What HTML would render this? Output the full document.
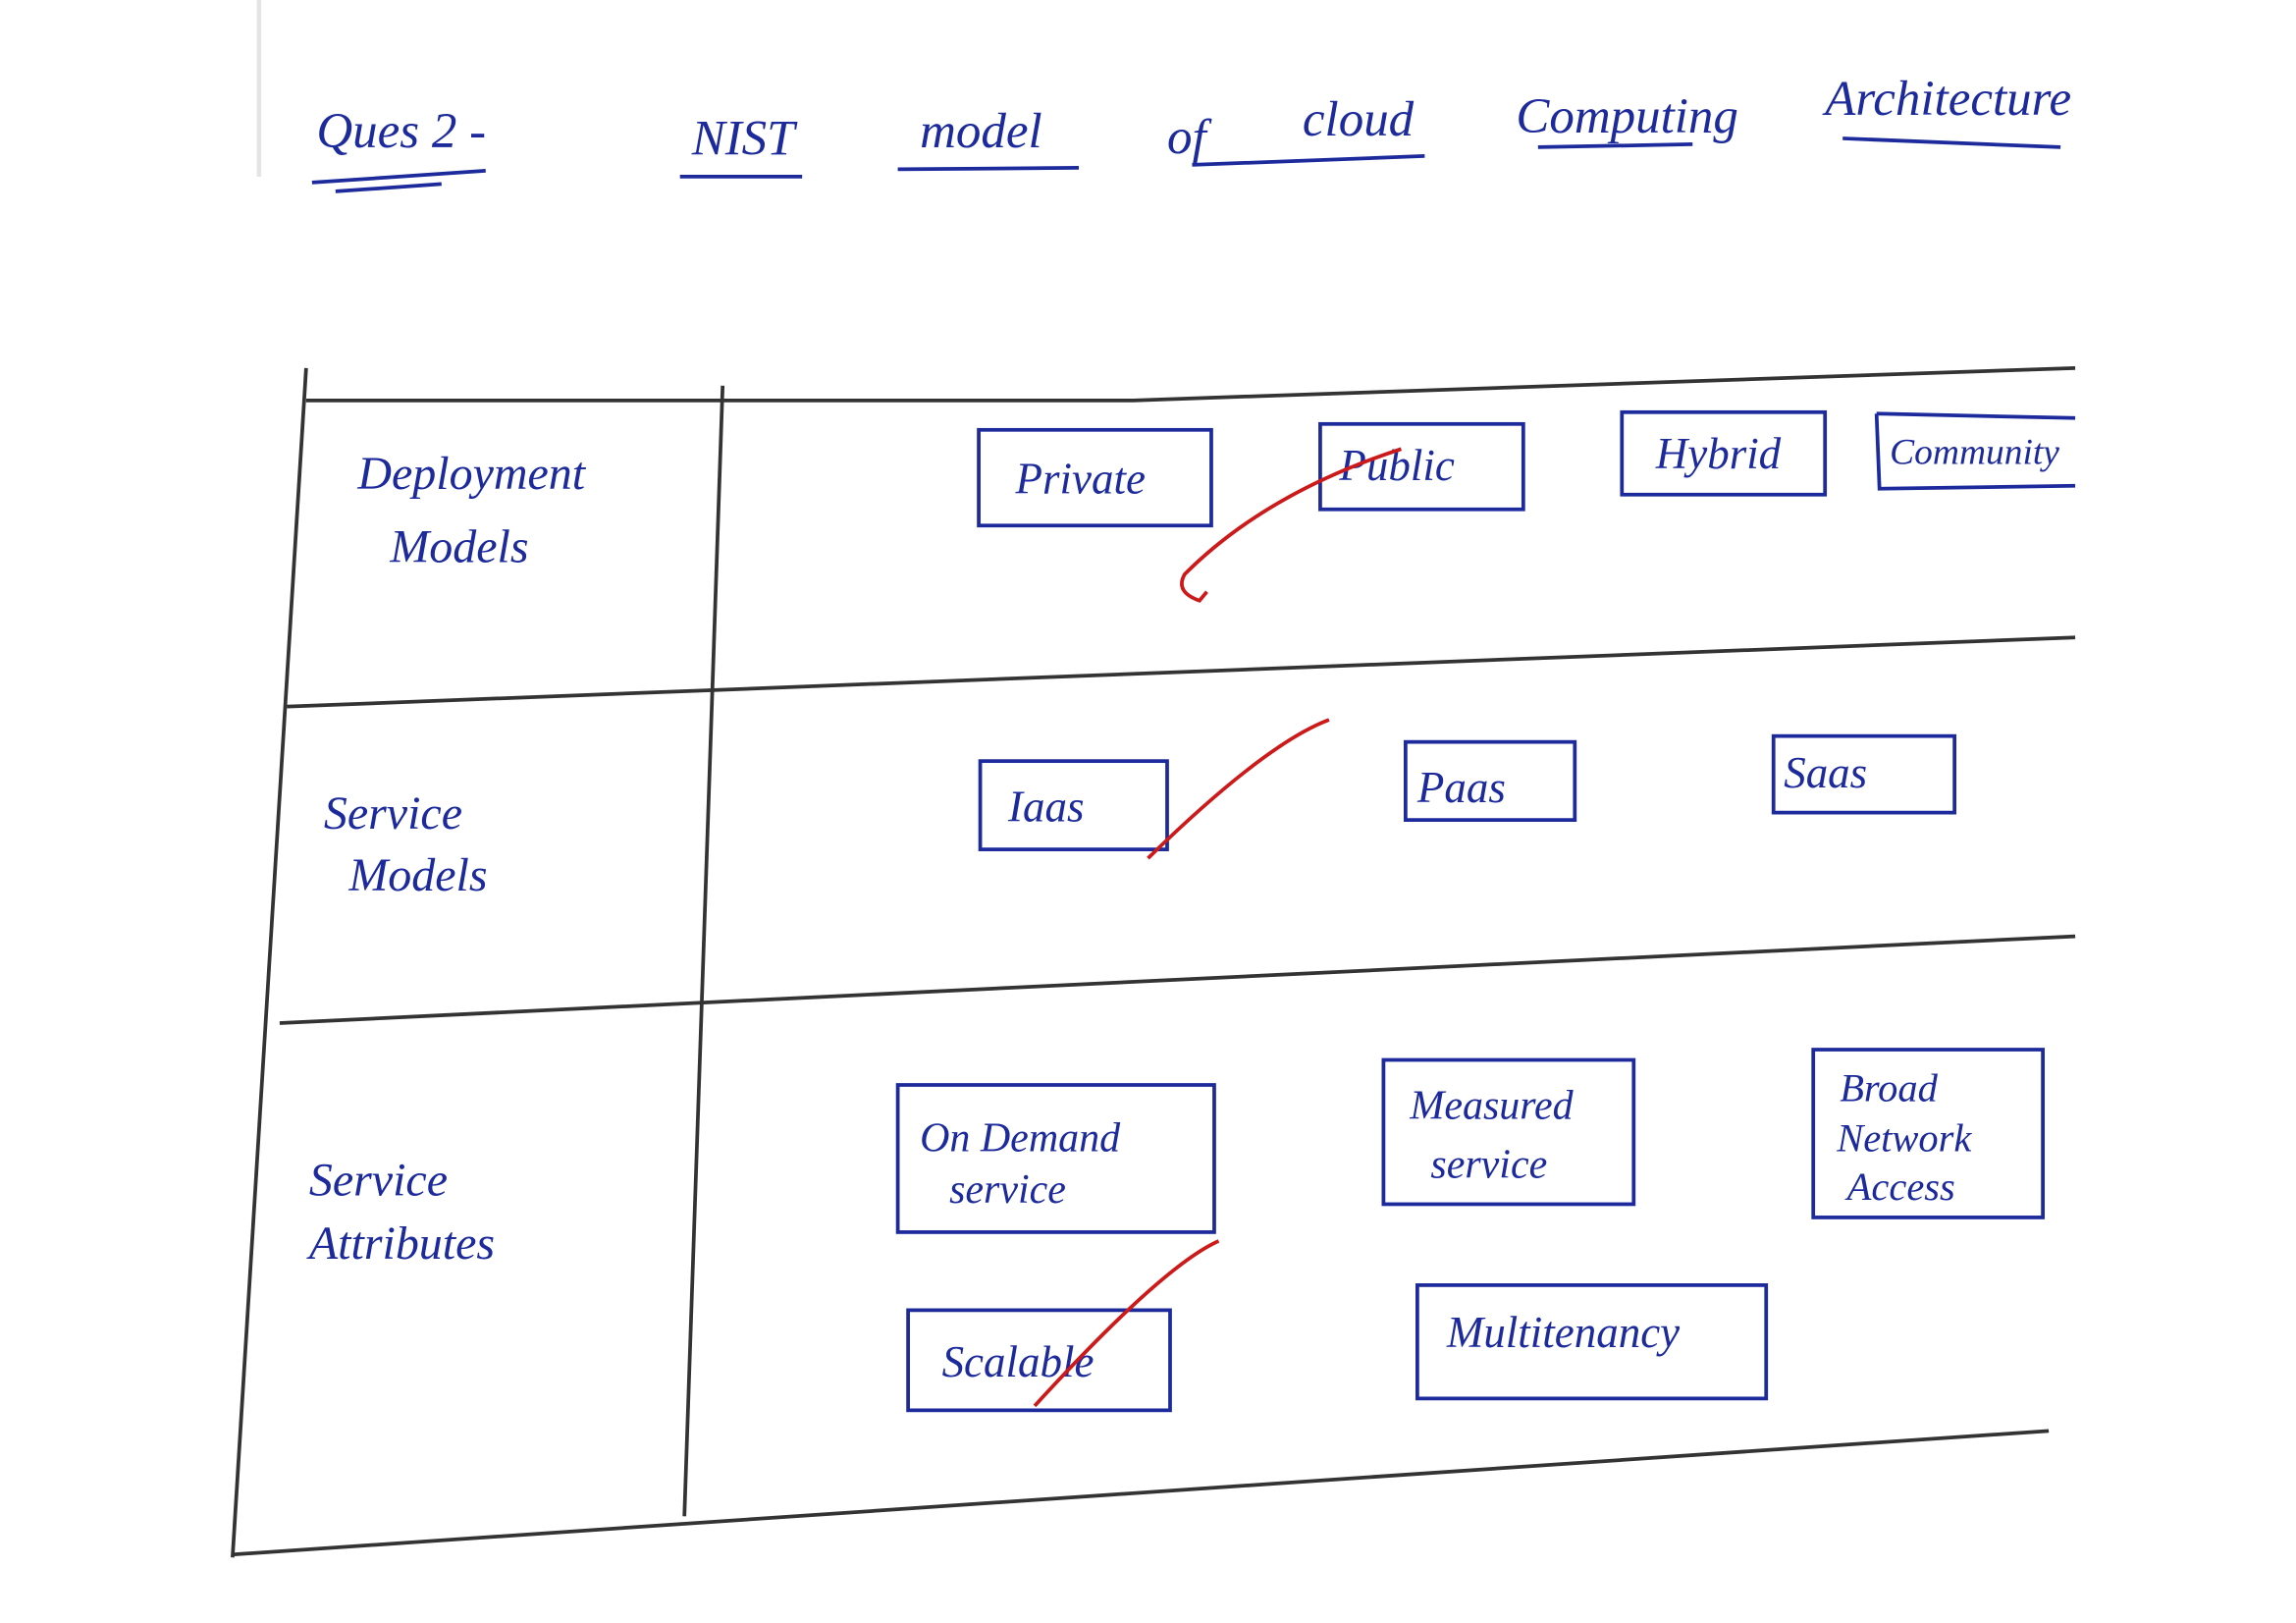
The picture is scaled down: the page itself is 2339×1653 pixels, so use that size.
<!DOCTYPE html>
<html><head><meta charset="utf-8"><style>
html,body{margin:0;padding:0;background:#fff;}
svg{display:block;}
text{font-family:"Liberation Serif",serif;font-style:italic;fill:#1c2a9c;}
</style></head><body>
<svg width="2339" height="1653" viewBox="0 0 1560 1102.5" preserveAspectRatio="none" xmlns="http://www.w3.org/2000/svg">
<rect width="1560" height="1102.5" fill="#fff"/>
<line x1="176" y1="0" x2="176" y2="120" stroke="#e4e4e4" stroke-width="3"/>
<!-- title -->
<g font-size="34">
<text x="215" y="100">Ques 2 -</text>
<text x="470" y="105">NIST</text>
<text x="625" y="100">model</text>
<text x="793" y="104">of</text>
<text x="885" y="92">cloud</text>
<text x="1030" y="90">Computing</text>
<text x="1240" y="78">Architecture</text>
</g>
<g stroke="#1c2a9c" stroke-width="2.5" fill="none">
<path d="M212 124 L330 116 M228 130 L300 125"/>
<path d="M462 120 L545 120"/>
<path d="M610 115 L733 114"/>
<path d="M810 112 L968 106"/>
<path d="M1045 100 L1150 98"/>
<path d="M1252 94 L1400 100"/>
</g>
<!-- table lines -->
<g stroke="#333" stroke-width="2.5" fill="none">
<path d="M208 250 L158 1058"/>
<path d="M491 262 L465 1030"/>
<path d="M208 272 L770 272 L1410 250"/>
<path d="M195 480 L1410 433"/>
<path d="M190 695 L1410 636"/>
<path d="M158 1056 L1392 972"/>
</g>
<!-- row labels -->
<g font-size="32">
<text x="243" y="332">Deployment</text>
<text x="265" y="382">Models</text>
<text x="220" y="563">Service</text>
<text x="237" y="605">Models</text>
<text x="210" y="812">Service</text>
<text x="210" y="855">Attributes</text>
</g>
<!-- boxes -->
<g stroke="#1c2a9c" stroke-width="2.5" fill="none">
<rect x="665" y="292" width="158" height="65"/>
<rect x="897" y="288" width="138" height="58"/>
<rect x="1102" y="280" width="138" height="56"/>
<path d="M1275 281 L1410 284 M1275 281 L1277 332 L1410 330"/>
<rect x="666" y="517" width="127" height="60"/>
<rect x="955" y="504" width="115" height="53"/>
<rect x="1205" y="500" width="123" height="52"/>
<rect x="610" y="737" width="215" height="100"/>
<rect x="940" y="720" width="170" height="98"/>
<rect x="1232" y="713" width="156" height="114"/>
<rect x="617" y="890" width="178" height="68"/>
<rect x="963" y="873" width="237" height="77"/>
</g>
<g font-size="30">
<text x="690" y="335">Private</text>
<text x="910" y="326">Public</text>
<text x="1125" y="318">Hybrid</text>
<text x="1284" y="315" font-size="25">Community</text>
<text x="685" y="558">Iaas</text>
<text x="963" y="545">Paas</text>
<text x="1212" y="535">Saas</text>
<text x="625" y="782" font-size="28">On Demand</text>
<text x="645" y="817" font-size="28">service</text>
<text x="958" y="760" font-size="28">Measured</text>
<text x="972" y="800" font-size="28">service</text>
<text x="1250" y="748" font-size="27">Broad</text>
<text x="1248" y="782" font-size="27">Network</text>
<text x="1255" y="815" font-size="27">Access</text>
<text x="640" y="935">Scalable</text>
<text x="983" y="915">Multitenancy</text>
</g>
<!-- red ticks -->
<g stroke="#cc1a1a" stroke-width="2.5" fill="none">
<path d="M952 305 Q860 335 805 390 Q798 402 815 408 L820 402"/>
<path d="M903 489 Q860 505 780 583"/>
<path d="M828 843 Q790 860 703 955"/>
</g>
</svg>
</body></html>
